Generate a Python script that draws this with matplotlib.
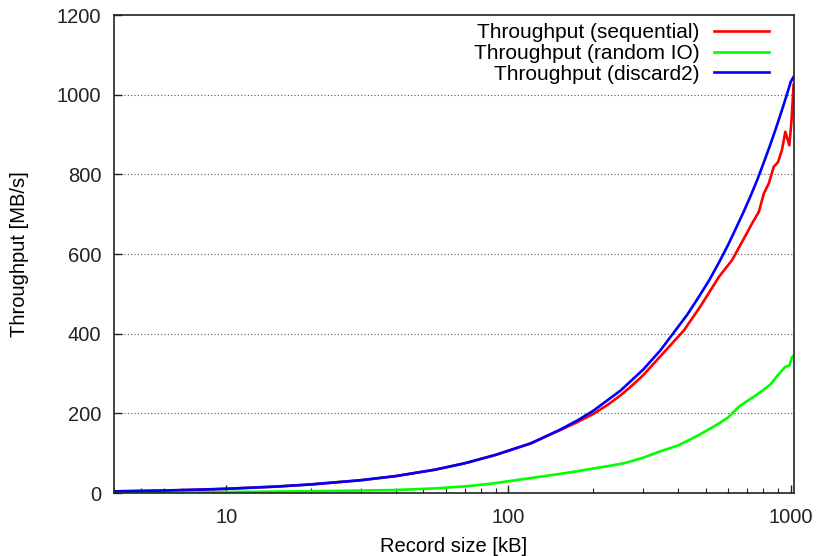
import numpy as np
import matplotlib
matplotlib.use("Agg")
import matplotlib.pyplot as plt
from matplotlib.ticker import FixedLocator, NullFormatter, LogLocator

plt.rcParams['font.family'] = ['Liberation Sans', 'DejaVu Sans']

# record size [kB] and throughput [MB/s]
seq_x = [4, 6, 8, 10, 15, 20, 30, 40, 55, 70, 90, 120, 150, 175, 200, 225, 250, 275, 300, 350, 419, 480,
         557, 620, 673, 730, 771, 803, 836, 871, 902, 931, 957, 989, 1006, 1024]
seq_y = [4.5, 6.6, 8.8, 11, 16.5, 22, 32.5, 43, 59, 75, 96, 125, 156, 178, 199, 222, 246, 271, 296, 348, 409, 470,
         543, 585, 631, 677, 706, 752, 777, 819, 831, 861, 907, 873, 932, 1025]

rnd_x = [4, 6, 8, 10, 15, 20, 30, 40, 55, 70, 85, 100, 120, 151, 175, 200, 230, 260, 300, 342, 400, 435, 473,
         527, 560, 600, 655, 700, 750, 800, 848, 900, 957, 990, 1012, 1024]
rnd_y = [1, 1.5, 2, 3, 4, 5, 6.5, 8, 12, 17, 23, 30, 38, 48, 55, 62, 69, 76, 89, 104, 120, 133, 146,
         165, 176, 190, 217, 231, 245, 259, 273, 296, 317, 321, 342, 345]

dis_x = [4, 6, 8, 10, 15, 20, 30, 40, 55, 70, 90, 120, 150, 175, 200, 250, 300, 345, 390, 430, 470, 515, 560,
         600, 640, 680, 720, 760, 800, 840, 880, 920, 960, 1000, 1024]
dis_y = [4.5, 6.6, 8.8, 11, 16.5, 22, 32.5, 43, 59, 75, 96, 125, 157, 182, 207, 258, 310, 358, 408, 448, 490, 535, 582,
         623, 665, 705, 745, 785, 827, 868, 909, 950, 991, 1032, 1045]

y_ticks = [0, 200, 400, 600, 800, 1000, 1200]

fig = plt.figure(figsize=(8.19, 5.56), dpi=100)
ax = fig.add_axes([0.139, 0.113, 0.830, 0.860])

ax.plot(seq_x, seq_y, color='#ff0000', lw=1.9, label='Throughput (sequential)')
ax.plot(rnd_x, rnd_y, color='#00ff00', lw=1.9, label='Throughput (random IO)')
ax.plot(dis_x, dis_y, color='#0000ff', lw=1.9, label='Throughput (discard2)')

ax.set_xscale('log')
ax.set_xlim(4, 1024)
ax.set_ylim(0, 1200)
ax.set_yticks(y_ticks)
ax.xaxis.set_major_locator(FixedLocator([10, 100, 1000]))
ax.set_xticklabels(['10', '100', '1000'])
ax.xaxis.set_minor_locator(LogLocator(base=10, subs=np.arange(2, 10)))
ax.xaxis.set_minor_formatter(NullFormatter())

for yv in y_ticks[1:-1]:
    ax.axhline(yv, color='#555555', lw=0.8, ls=(0, (1, 2)), zorder=0)

ax.tick_params(axis='both', which='major', direction='in', length=6, width=1,
               labelsize=14.5, top=False, right=False, colors='#222222')
ax.tick_params(axis='x', which='major', pad=11)
ax.tick_params(axis='y', which='major', pad=9)
ax.tick_params(axis='x', which='minor', direction='in', length=3.5, width=0.8,
               top=False, colors='#222222')
ax.tick_params(axis='y', which='minor', left=False, right=False)
for sp in ax.spines.values():
    sp.set_color('#222222')
    sp.set_linewidth(1.2)

ax.set_xlabel('Record size [kB]', fontsize=14.5)
ax.set_ylabel('Throughput [MB/s]', fontsize=14.5)
ax.xaxis.set_label_coords(0.5, -0.092)
ax.yaxis.set_label_coords(-0.125, 0.5)

ax.legend(loc='upper right', frameon=False, markerfirst=False, fontsize=15,
          handlelength=2.65, handletextpad=0.67, labelspacing=0.08,
          borderaxespad=0, bbox_to_anchor=(0.976, 1.0))

fig.savefig('out.png', dpi=100)
